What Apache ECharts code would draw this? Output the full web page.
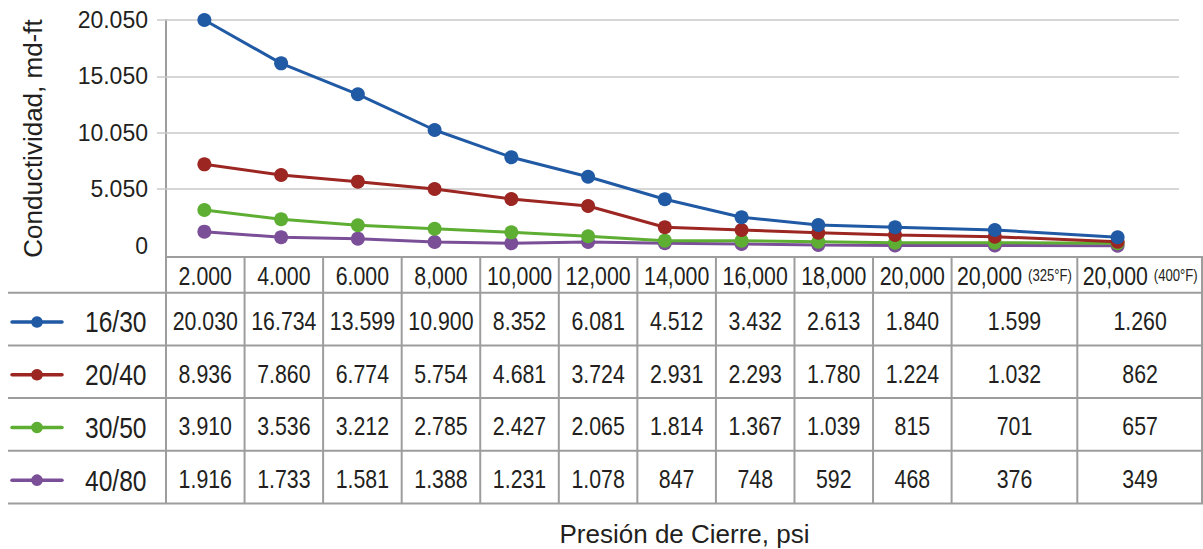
<!DOCTYPE html>
<html>
<head>
<meta charset="utf-8">
<script src="https://cdn.jsdelivr.net/npm/echarts@6/dist/echarts.min.js"></script>
<style>
html,body{margin:0;padding:0;background:#ffffff;}
#chart{width:1203px;height:549px;}
</style>
</head>
<body>
<div id="chart"></div>
<script>
// ---------- DATA ----------
const categories = ['2.000','4.000','6.000','8,000','10,000','12,000','14,000','16,000','18,000','20,000','20,000','20,000'];
const categoryNotes = ['','','','','','','','','','','(325°F)','(400°F)'];
const seriesNames = ['16/30','20/40','30/50','40/80'];

const curve1630 = [20050,16200,13450,10280,7860,6130,4130,2530,1840,1640,1400,750];
const curve2040 = [7230,6280,5690,5040,4150,3530,1640,1400,1160,950,800,360];
const curve3050 = [3170,2350,1820,1510,1190,840,450,450,360,270,270,220];
const curve4080 = [1250,750,630,330,220,330,220,150,70,20,20,10];

// values printed in the data table
const table1630 = [20030,16734,13599,10900,8352,6081,4512,3432,2613,1840,1599,1260];
const table2040 = [8936,7860,6774,5754,4681,3724,2931,2293,1780,1224,1032,862];
const table3050 = [3910,3536,3212,2785,2427,2065,1814,1367,1039,815,701,657];
const table4080 = [1916,1733,1581,1388,1231,1078,847,748,592,468,376,349];

const yTickValues = [0,5050,10050,15050,20050];
const yTickLabels = ['0','5.050','10.050','15.050','20.050'];
const yGridValues = [5050,10050,15050,20050];

const yAxisTitle = 'Conductividad, md-ft';
const xAxisTitle = 'Presión de Cierre, psi';

// ---------- STYLE / LAYOUT ----------
const colors = ['#2059a4','#9b2622','#5eae33','#7a4f97'];
const REGULAR = "'Liberation Sans',Arial,sans-serif";
const CONDENSE = 0.82;
const TEXT = '#231f20';
const BORDER = '#9d9d9d';
const GRIDC = '#c8c8c8';

const colUnits = [1,1,1,1,1,1,1,1,1,1,1.6,1.6];
const totalUnits = colUnits.reduce((a,b)=>a+b,0);
const colStarts = [];
{ let acc = 0; colUnits.forEach(u => { colStarts.push(acc); acc += u; }); }
const colCenters = colUnits.map((u,i)=>colStarts[i]+u/2);

const TABLE_LEFT = 166, TABLE_RIGHT = 1203;
const HEAD_TOP = 257, HEAD_BOTTOM = 292.7, ROW_H = 52.7;
const ROW_LINE_LEFT = 8;
const unitPx = (TABLE_RIGHT - TABLE_LEFT) / totalUnits;
const tableBottom = HEAD_BOTTOM + ROW_H * 4;

const curves = [curve1630, curve2040, curve3050, curve4080];
const tables = [table1630, table2040, table3050, table4080];

function fmt(n){
  const s = String(n);
  return s.length > 3 ? s.slice(0, s.length-3) + '.' + s.slice(s.length-3) : s;
}

// ---------- TABLE GRAPHICS ----------
const g = [];
function hline(y, x1, x2){
  g.push({type:'line', silent:true, z:50, shape:{x1:x1,y1:y,x2:x2,y2:y}, style:{stroke:BORDER, lineWidth:2}});
}
function vline(x, y1, y2){
  g.push({type:'line', silent:true, z:50, shape:{x1:x,y1:y1,x2:x,y2:y2}, style:{stroke:BORDER, lineWidth:2}});
}
function txt(x, y, text, size, align, rich){
  const style = {text:text, fontSize:size, fontFamily:REGULAR, fill:TEXT,
    align:align, verticalAlign:'middle', textAlign:align, textVerticalAlign:'middle'};
  if (rich) style.rich = rich;
  g.push({type:'text', silent:true, z:60, x:x, y:y, scaleX:CONDENSE, scaleY:1, originX:0, originY:0, style:style});
}

hline(HEAD_TOP, TABLE_LEFT, TABLE_RIGHT);
for (let k=0;k<=4;k++) hline(HEAD_BOTTOM + k*ROW_H, ROW_LINE_LEFT, TABLE_RIGHT);
for (let i=0;i<=colUnits.length;i++){
  let x = TABLE_LEFT + (i<colUnits.length ? colStarts[i] : totalUnits) * unitPx;
  if (i===colUnits.length) x -= 1;
  vline(x, HEAD_TOP, tableBottom);
}
// header labels
categories.forEach((c,i)=>{
  const cx = TABLE_LEFT + colCenters[i]*unitPx;
  const note = categoryNotes[i];
  if (note){
    txt(cx, (HEAD_TOP+HEAD_BOTTOM)/2 + 0.5, '{a|' + c + '} {b|' + note + '}', 26, 'center', {
      a:{fontSize:26, fontFamily:REGULAR, color:TEXT, fill:TEXT},
      b:{fontSize:16, fontFamily:REGULAR, color:TEXT, fill:TEXT}
    });
  } else {
    txt(cx, (HEAD_TOP+HEAD_BOTTOM)/2 + 0.5, c, 26, 'center');
  }
});
// rows
seriesNames.forEach((name,r)=>{
  const top = HEAD_BOTTOM + r*ROW_H;
  const cy = top + ROW_H/2;
  g.push({type:'line', silent:true, z:60, shape:{x1:12,y1:cy+3,x2:62,y2:cy+3}, style:{stroke:colors[r], lineWidth:3.5, lineCap:'round'}});
  g.push({type:'circle', silent:true, z:61, shape:{cx:37, cy:cy+3, r:5.8}, style:{fill:colors[r]}});
  txt(85, cy+3, name, 30, 'left');
  tables[r].forEach((v,i)=>{
    txt(TABLE_LEFT + colCenters[i]*unitPx, cy + 1.5, fmt(v), 26, 'center');
  });
});

// ---------- CHART ----------
const chart = echarts.init(document.getElementById('chart'), null, {renderer:'svg'});
chart.setOption({
  animation:false,
  backgroundColor:'#ffffff',
  grid:{left:166, right:24, top:20, bottom:292, containLabel:false, outerBoundsMode:'none'},
  xAxis:{
    type:'value', min:0, max:totalUnits,
    axisLine:{show:false}, axisTick:{show:false}, axisLabel:{show:false}, splitLine:{show:false},
    name:xAxisTitle, nameLocation:'middle', nameGap:264,
    nameTextStyle:{fontSize:26, fontFamily:REGULAR, color:TEXT, padding:[0,0,0,24]}
  },
  yAxis:{
    type:'value', min:-1000, max:20050,
    axisLine:{show:true, lineStyle:{color:BORDER, width:2}},
    axisTick:{show:true, customValues:yGridValues, length:9, lineStyle:{color:GRIDC, width:1.5}},
    axisLabel:{
      customValues:yTickValues,
      formatter:(v)=>{
        let best = 0;
        yTickValues.forEach((t,i)=>{ if (Math.abs(t-v) < Math.abs(yTickValues[best]-v)) best = i; });
        return yTickLabels[best];
      },
      margin:18, fontSize:23, fontFamily:REGULAR, color:TEXT
    },
    splitLine:{show:false},
    name:yAxisTitle, nameLocation:'middle', nameGap:120,
    nameTextStyle:{fontSize:26, fontFamily:REGULAR, color:TEXT}
  },
  series: seriesNames.map((name,i)=>{
    const s = {
      type:'line', name:name,
      data: curves[i].map((v,j)=>[colCenters[j], v]),
      symbol:'circle', symbolSize:14, clip:false, z:10-i,
      lineStyle:{width:3, color:colors[i]},
      itemStyle:{color:colors[i]},
      emphasis:{disabled:true},
      silent:true
    };
    if (i===0){
      s.markLine = {
        silent:true, z:1, symbol:['none','none'], animation:false,
        label:{show:false},
        lineStyle:{color:GRIDC, width:1.5, type:'solid'},
        emphasis:{disabled:true},
        data: yGridValues.map(v=>({yAxis:v}))
      };
    }
    return s;
  }),
  graphic:{elements:g}
});
</script>
</body>
</html>
